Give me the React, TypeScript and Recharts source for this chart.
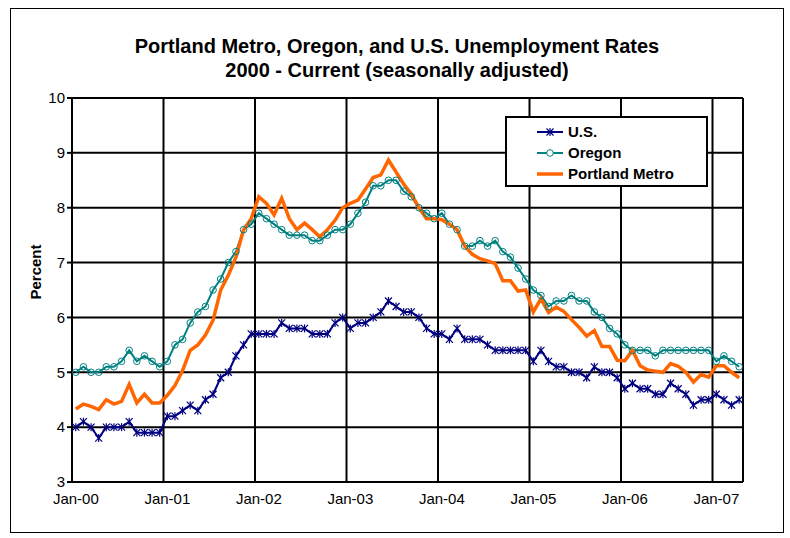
import { LineChart, Line, XAxis, YAxis, CartesianGrid, Legend } from 'recharts';

const monthNames = ['Jan', 'Feb', 'Mar', 'Apr', 'May', 'Jun', 'Jul', 'Aug', 'Sep', 'Oct', 'Nov', 'Dec'];
const years = ['00', '01', '02', '03', '04', '05', '06', '07'];
// Jan-00 through Apr-07
const months = years.flatMap((y) => monthNames.map((m) => `${m}-${y}`)).slice(0, 88);

const usRate = [
  4.0, 4.1, 4.0, 3.8, 4.0, 4.0, 4.0, 4.1, 3.9, 3.9, 3.9, 3.9,
  4.2, 4.2, 4.3, 4.4, 4.3, 4.5, 4.6, 4.9, 5.0, 5.3, 5.5, 5.7,
  5.7, 5.7, 5.7, 5.9, 5.8, 5.8, 5.8, 5.7, 5.7, 5.7, 5.9, 6.0,
  5.8, 5.9, 5.9, 6.0, 6.1, 6.3, 6.2, 6.1, 6.1, 6.0, 5.8, 5.7,
  5.7, 5.6, 5.8, 5.6, 5.6, 5.6, 5.5, 5.4, 5.4, 5.4, 5.4, 5.4,
  5.2, 5.4, 5.2, 5.1, 5.1, 5.0, 5.0, 4.9, 5.1, 5.0, 5.0, 4.9,
  4.7, 4.8, 4.7, 4.7, 4.6, 4.6, 4.8, 4.7, 4.6, 4.4, 4.5, 4.5,
  4.6, 4.5, 4.4, 4.5,
];

const oregonRate = [
  5.0, 5.1, 5.0, 5.0, 5.1, 5.1, 5.2, 5.4, 5.2, 5.3, 5.2, 5.1,
  5.2, 5.5, 5.6, 5.9, 6.1, 6.2, 6.5, 6.7, 7.0, 7.2, 7.6, 7.7,
  7.9, 7.8, 7.7, 7.6, 7.5, 7.5, 7.5, 7.4, 7.4, 7.5, 7.6, 7.6,
  7.7, 7.9, 8.1, 8.4, 8.4, 8.5, 8.5, 8.3, 8.2, 8.0, 7.9, 7.8,
  7.9, 7.7, 7.6, 7.3, 7.3, 7.4, 7.3, 7.4, 7.2, 7.1, 6.9, 6.7,
  6.5, 6.4, 6.2, 6.3, 6.3, 6.4, 6.3, 6.3, 6.1, 6.0, 5.8, 5.7,
  5.5, 5.4, 5.4, 5.4, 5.3, 5.4, 5.4, 5.4, 5.4, 5.4, 5.4, 5.4,
  5.2, 5.3, 5.2, 5.1,
];

const portlandRate = [
  4.33, 4.42, 4.38, 4.32, 4.5, 4.42, 4.47, 4.78, 4.44, 4.6, 4.44, 4.44,
  4.58, 4.76, 5.03, 5.4, 5.5, 5.68, 5.95, 6.5, 6.77, 7.1, 7.6, 7.8,
  8.2, 8.08, 7.87, 8.17, 7.8, 7.6, 7.72, 7.6, 7.47, 7.6, 7.77, 8.0,
  8.08, 8.14, 8.34, 8.55, 8.6, 8.87, 8.65, 8.43, 8.25, 8.0, 7.8, 7.8,
  7.78, 7.7, 7.6, 7.3, 7.15, 7.07, 7.03, 6.98, 6.67, 6.67, 6.48, 6.5,
  6.1, 6.34, 6.09, 6.19, 6.11, 5.96, 5.82, 5.66, 5.76, 5.47, 5.47, 5.22,
  5.21, 5.4, 5.12, 5.04, 5.02, 5.0, 5.16, 5.11, 5.0, 4.82, 4.96, 4.91,
  5.12, 5.12, 5.0, 4.9,
];

const yTicks = [3, 4, 5, 6, 7, 8, 9, 10];
// gridlines sit between months, labels sit on the January points
const gridTicks = [0, 12, 24, 36, 48, 60, 72, 84, 88];
const labelTicks = gridTicks.slice(0, -1).map((t) => t + 0.5);

const data = months.map((m, i) => ({
  month: m,
  t: i + 0.5,
  us: usRate[i],
  oregon: oregonRate[i],
  portland: portlandRate[i],
}));

const FONT = "'Liberation Sans', Arial, sans-serif";
const US_COLOR = '#000080';
const OR_COLOR = '#008080';
const PDX_COLOR = '#FF6600';

const Asterisk = (props: any) => {
  const { cx, cy, index } = props;
  if (cx == null || cy == null) return null;
  const r = 3.5;
  return (
    <g key={`ast-${index}`} stroke={US_COLOR} strokeWidth={1.2}>
      <line x1={cx - r} y1={cy - r} x2={cx + r} y2={cy + r} />
      <line x1={cx - r} y1={cy + r} x2={cx + r} y2={cy - r} />
      <line x1={cx} y1={cy - r - 0.5} x2={cx} y2={cy + r + 0.5} />
    </g>
  );
};

const LegendBox = () => {
  const rows = [
    { label: 'U.S.', color: US_COLOR, width: 2, marker: 'ast' },
    { label: 'Oregon', color: OR_COLOR, width: 2, marker: 'circle' },
    { label: 'Portland Metro', color: PDX_COLOR, width: 3.5, marker: 'none' },
  ];
  return (
    <div
      style={{
        border: '2px solid #000',
        background: '#fff',
        boxSizing: 'border-box',
        width: 203,
        height: 71,
        padding: '3px 0 0 30px',
        fontFamily: FONT,
        fontWeight: 'bold',
        fontSize: 15,
      }}
    >
      {rows.map((r) => (
        <div key={r.label} style={{ display: 'flex', alignItems: 'center', height: 21 }}>
          <svg width={28} height={12} style={{ marginRight: 3 }}>
            <line x1={0} y1={6} x2={26} y2={6} stroke={r.color} strokeWidth={r.width} />
            {r.marker === 'ast' && <Asterisk cx={13} cy={6} index={0} />}
            {r.marker === 'circle' && <circle cx={13} cy={6} r={3.3} fill="#fff" stroke={OR_COLOR} strokeWidth={1} />}
          </svg>
          <span>{r.label}</span>
        </div>
      ))}
    </div>
  );
};

export default function App() {
  return (
    <div style={{ position: 'absolute', left: 0, top: 0, width: 790, height: 538, background: '#fff', fontFamily: FONT }}>
      <div
        style={{
          position: 'absolute',
          left: 10,
          top: 8,
          width: 772,
          height: 523,
          border: '1px solid #000',
          pointerEvents: 'none',
        }}
      />
      <div
        style={{
          position: 'absolute',
          top: 34,
          left: 0,
          width: 794,
          textAlign: 'center',
          fontSize: 20,
          fontWeight: 'bold',
          lineHeight: '24px',
        }}
      >
        Portland Metro, Oregon, and U.S. Unemployment Rates
        <br />
        2000 - Current (seasonally adjusted)
      </div>
      <div
        style={{
          position: 'absolute',
          left: 35,
          top: 272,
          transform: 'translate(-50%, -50%) rotate(-90deg)',
          fontSize: 15,
          fontWeight: 'bold',
          whiteSpace: 'nowrap',
        }}
      >
        Percent
      </div>
      <LineChart width={790} height={538} data={data} margin={{ top: 98, right: 47, bottom: 16, left: 0 }}>
        <CartesianGrid xAxisId="grid" stroke="#000" strokeWidth={2} />
        <XAxis
          xAxisId="grid"
          dataKey="t"
          type="number"
          domain={[0, 88]}
          ticks={gridTicks}
          interval={0}
          tickFormatter={() => ''}
          height={0}
          tickSize={6}
          axisLine={{ stroke: '#000', strokeWidth: 2 }}
          tickLine={{ stroke: '#000', strokeWidth: 2 }}
        />
        <XAxis
          xAxisId="lab"
          dataKey="t"
          type="number"
          domain={[0, 88]}
          ticks={labelTicks}
          interval={0}
          tickFormatter={(v: number) => months[Math.floor(v)]}
          height={40}
          tickSize={6}
          tickMargin={5}
          axisLine={false}
          tickLine={false}
          tick={{ fill: '#000', fontSize: 15, fontFamily: FONT }}
        />
        <YAxis
          type="number"
          domain={[3, 10]}
          ticks={yTicks}
          interval={0}
          width={72}
          tickSize={5}
          tickMargin={2}
          axisLine={{ stroke: '#000', strokeWidth: 2 }}
          tickLine={{ stroke: '#000', strokeWidth: 2 }}
          tick={{ fill: '#000', fontSize: 15, fontFamily: FONT }}
        />
        <Legend
          layout="vertical"
          align="center"
          verticalAlign="middle"
          wrapperStyle={{ left: 505, top: 116, width: 203, height: 71 }}
          content={() => <LegendBox />}
        />
        <Line
          xAxisId="grid"
          type="linear"
          dataKey="us"
          name="U.S."
          stroke={US_COLOR}
          strokeWidth={2}
          dot={<Asterisk />}
          activeDot={false}
          isAnimationActive={false}
        />
        <Line
          xAxisId="grid"
          type="linear"
          dataKey="oregon"
          name="Oregon"
          stroke={OR_COLOR}
          strokeWidth={2}
          dot={{ r: 3.3, stroke: OR_COLOR, strokeWidth: 1, fill: 'none' }}
          activeDot={false}
          isAnimationActive={false}
        />
        <Line
          xAxisId="grid"
          type="linear"
          dataKey="portland"
          name="Portland Metro"
          stroke={PDX_COLOR}
          strokeWidth={3.5}
          dot={false}
          activeDot={false}
          isAnimationActive={false}
        />
      </LineChart>
    </div>
  );
}
